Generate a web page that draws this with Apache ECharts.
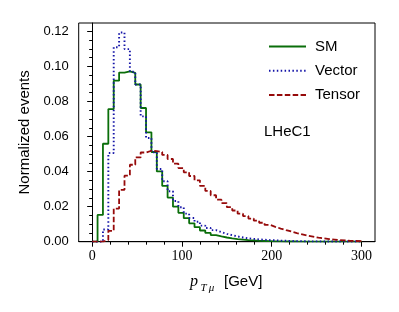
<!DOCTYPE html>
<html>
<head>
<meta charset="utf-8">
<script src="https://cdn.jsdelivr.net/npm/echarts@6/dist/echarts.min.js"></script>
<style>html,body{margin:0;padding:0;background:#fff}#c{width:399px;height:312px}</style>
</head>
<body>
<div id="c"></div>
<script>
// Bin edges (GeV), 6 GeV bins from 0 to 300
const binEdges = [0,6,12,18,24,30,36,42,48,54,60,66,72,78,84,90,96,102,108,114,120,126,132,138,144,150,156,162,168,174,180,186,192,198,204,210,216,222,228,234,240,246,252,258,264,270,276,282,288,294,300];

const smValues = [0, 0.0153, 0.0559, 0.0757, 0.0919, 0.0965, 0.0972, 0.0963, 0.0897, 0.0763,
 0.0624, 0.0512, 0.0401, 0.0318, 0.0252, 0.0200, 0.0165, 0.0134, 0.0105, 0.0083,
 0.0064, 0.0050, 0.0038, 0.0030, 0.0024, 0.0019, 0.0015, 0.0012, 0.0009, 0.0007,
 0.0005, 0.0004, 0.0003, 0.0002, 0.0002, 0.0001, 0.0001, 0.0001, 0, 0,
 0, 0, 0, 0, 0, 0, 0, 0, 0, 0];

const vectorValues = [0, 0, 0.0070, 0.0506, 0.1110, 0.1194, 0.1099, 0.0970, 0.0897, 0.0715,
 0.0592, 0.0510, 0.0415, 0.0345, 0.0288, 0.0232, 0.0197, 0.0160, 0.0135, 0.0114,
 0.0092, 0.0078, 0.0066, 0.0055, 0.0045, 0.0037, 0.0030, 0.0024, 0.0019, 0.0016,
 0.0013, 0.0011, 0.0009, 0.0008, 0.0006, 0.0005, 0.0004, 0.0003, 0.0003, 0.0002,
 0.0002, 0.0002, 0.0001, 0.0001, 0.0001, 0.0001, 0.0001, 0.0001, 0.0001, 0];

const tensorValues = [0, 0, 0.0010, 0.0062, 0.0189, 0.0296, 0.0377, 0.0439, 0.0481, 0.0509,
 0.0519, 0.0517, 0.0512, 0.0495, 0.0472, 0.0445, 0.0420, 0.0396, 0.0375, 0.0350,
 0.0318, 0.0290, 0.0265, 0.0240, 0.0220, 0.0197, 0.0178, 0.0160, 0.0146, 0.0132,
 0.0120, 0.0108, 0.0096, 0.0085, 0.0075, 0.0066, 0.0058, 0.0049, 0.0042, 0.0035,
 0.0029, 0.0023, 0.0019, 0.0015, 0.0012, 0.0009, 0.0007, 0.0005, 0.0004, 0.0003];

const xTicks = [0, 100, 200, 300];
const xMinorTicks = [20, 40, 60, 80, 120, 140, 160, 180, 220, 240, 260, 280];
const yTicks = [0, 0.02, 0.04, 0.06, 0.08, 0.10, 0.12];
const yMinorTicks = [0.005, 0.01, 0.015, 0.025, 0.03, 0.035, 0.045, 0.05, 0.055, 0.065, 0.07, 0.075, 0.085, 0.09, 0.095, 0.105, 0.11, 0.115];

const seriesNames = ['SM', 'Vector', 'Tensor'];

function histPoints(vals) {
  const pts = [];
  for (let i = 0; i < vals.length; i++) pts.push([binEdges[i], vals[i]]);
  pts.push([binEdges[binEdges.length - 1], vals[vals.length - 1]]);
  pts.push([binEdges[binEdges.length - 1], 0]);
  return pts;
}

const chart = echarts.init(document.getElementById('c'), null, {renderer: 'canvas'});
const SANS = '"Liberation Sans", Arial, sans-serif';
const SERIF = '"Liberation Serif", "DejaVu Serif", serif';

const option = {
  backgroundColor: '#fff',
  animation: false,
  grid: {left: 78.7, right: 24, top: 23, bottom: 70.3, show: true, borderColor: '#000', borderWidth: 1, backgroundColor: 'transparent'},
  legend: {
    orient: 'vertical', left: 263, top: 34,
    itemWidth: 37, itemHeight: 14, itemGap: 9.2,
    itemStyle: {opacity: 0},
    textStyle: {fontFamily: SANS, fontSize: 15, color: '#000', padding: [0, 0, 0, 4]},
    data: seriesNames
  },
  xAxis: [{
    type: 'value', min: -15, max: 315,
    axisLine: {show: true, onZero: false, lineStyle: {color: '#000', width: 1}},
    splitLine: {show: false},
    axisTick: {show: true, length: 5, customValues: xTicks, lineStyle: {color: '#000'}},
    axisLabel: {customValues: xTicks, fontFamily: SERIF, fontSize: 14, color: '#000', margin: 8}
  }, {
    type: 'value', min: -15, max: 315, position: 'bottom',
    axisLine: {show: false, onZero: false},
    splitLine: {show: false},
    axisTick: {show: true, length: 3, customValues: xMinorTicks, lineStyle: {color: '#000'}},
    axisLabel: {show: false, customValues: xMinorTicks}
  }],
  yAxis: [{
    type: 'value', min: 0, max: 0.1248,
    name: 'Normalized events', nameLocation: 'middle', nameGap: 44,
    nameTextStyle: {fontFamily: SANS, fontSize: 15, color: '#000'},
    axisLine: {show: true, lineStyle: {color: '#000', width: 1}},
    splitLine: {show: false},
    axisTick: {show: true, length: 5, customValues: yTicks, lineStyle: {color: '#000'}},
    axisLabel: {customValues: yTicks, fontFamily: SANS, fontSize: 13, color: '#000', margin: 10,
      formatter: v => v.toFixed(2)}
  }, {
    type: 'value', min: 0, max: 0.1248, position: 'left',
    axisLine: {show: false},
    splitLine: {show: false},
    axisTick: {show: true, length: 3, customValues: yMinorTicks, lineStyle: {color: '#000'}},
    axisLabel: {show: false, customValues: yMinorTicks}
  }],
  series: [{
    name: 'SM', type: 'line', step: 'end', symbol: 'none', data: histPoints(smValues),
    lineStyle: {color: '#0a6e0a', width: 1.8, type: 'solid'}, itemStyle: {color: '#0a6e0a'}, z: 3
  }, {
    name: 'Vector', type: 'line', step: 'end', symbol: 'none', data: histPoints(vectorValues),
    lineStyle: {color: '#1515a8', width: 1.9, type: [1.5, 2.4]}, itemStyle: {color: '#1515a8'}, z: 4
  }, {
    name: 'Tensor', type: 'line', step: 'end', symbol: 'none', data: histPoints(tensorValues),
    lineStyle: {color: '#960a0a', width: 1.8, type: [5.5, 2.4]}, itemStyle: {color: '#960a0a'}, z: 4
  }],
  graphic: [
    {type: 'text', left: 264, top: 124, style: {text: 'LHeC1', font: '15px ' + SANS, fill: '#000'}},
    {type: 'text', x: 190, y: 282, style: {text: 'p', font: 'italic 16px ' + SERIF, fill: '#000', textVerticalAlign: 'middle'}},
    {type: 'text', x: 200.5, y: 288, style: {text: 'T\u2009\u03bc', font: 'italic 11px ' + SERIF, fill: '#000', textVerticalAlign: 'middle'}},
    {type: 'text', x: 224, y: 281.5, style: {text: '[GeV]', font: '15px ' + SANS, fill: '#000', textVerticalAlign: 'middle'}}
  ]
};
chart.setOption(option);
</script>
</body>
</html>
